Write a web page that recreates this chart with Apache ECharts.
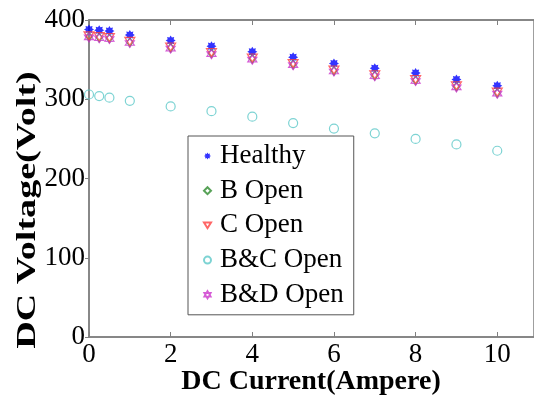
<!DOCTYPE html>
<html>
<head>
<meta charset="utf-8">
<script src="https://cdn.jsdelivr.net/npm/echarts@6/dist/echarts.min.js"></script>
<style>
  html, body { margin: 0; padding: 0; background: #fff; }
  #chart { width: 534px; height: 398px; }
</style>
</head>
<body>
<div id="chart"></div>
<script>
// DC current (A) at each measurement
const current = [0, 0.25, 0.5, 1, 2, 3, 4, 5, 6, 7, 8, 9, 10];
// DC bus voltage (V) for each operating condition
const healthy = [388, 387, 386, 381, 374, 367, 360, 353, 345, 339, 333, 325, 317];
const bOpen   = [379, 378, 377, 372, 365, 358, 351, 344, 336, 330, 324, 316, 308];
const cOpen   = [380, 379, 378, 373, 366, 359, 352, 345, 337, 331, 325, 317, 309];
const bcOpen  = [306, 304, 302, 298, 291, 285, 278, 270, 263, 257, 250, 243, 235];
const bdOpen  = [378, 377, 376, 371, 364, 357, 350, 343, 335, 329, 323, 315, 307];
const seriesNames = ['Healthy', 'B Open', 'C Open', 'B&C Open', 'B&D Open'];
const xTicks = [0, 2, 4, 6, 8, 10];
const yTicks = [0, 100, 200, 300, 400];

const FONT = '"Liberation Serif", "Times New Roman", serif';

// star polygon used for the asterisk and hexagram markers
function starPath(n, rOut, rIn) {
  let d = '';
  for (let i = 0; i < 2 * n; i++) {
    const r = i % 2 === 0 ? rOut : rIn;
    const a = Math.PI * i / n - Math.PI / 2;
    d += (i === 0 ? 'M' : 'L') + (r * Math.cos(a)).toFixed(3) + ',' + (r * Math.sin(a)).toFixed(3) + ' ';
  }
  return 'path://' + d + 'Z';
}
const asterisk = starPath(8, 10, 6.5);
const hexagram = starPath(6, 10, 5.8);
const downTriangle = 'path://M0,0 L10,0 L5,8 Z';

const pairs = v => current.map((x, i) => [x, v[i]]);
const hollow = c => ({ color: 'rgba(255,255,255,0)', borderColor: c, borderWidth: 1.2 });

const X_MAX = 10.9;
const axisGray = '#808080';

const chart = echarts.init(document.getElementById('chart'), null, { renderer: 'canvas' });
chart.setOption({
  animation: false,
  backgroundColor: '#fff',
  grid: {
    left: 89, top: 20, right: -2, bottom: 61, containLabel: false,
    show: true, backgroundColor: 'transparent', borderColor: axisGray, borderWidth: 1.5
  },
  xAxis: [{
    type: 'value', position: 'bottom', min: 0, max: X_MAX, interval: 2,
    axisLine: { show: true, onZero: false, lineStyle: { color: axisGray, width: 1.5 } },
    axisTick: { show: true, inside: true, length: 5, lineStyle: { color: axisGray } },
    axisLabel: {
      color: '#000', fontFamily: FONT, fontSize: 27, margin: 4, showMaxLabel: false,
      formatter: v => xTicks.indexOf(v) >= 0 ? String(v) : ''
    },
    splitLine: { show: false }
  }, {
    // top frame edge with inward ticks, same scale as the bottom axis
    type: 'value', position: 'top', min: 0, max: X_MAX, interval: 2,
    axisLine: { show: true, onZero: false, lineStyle: { color: axisGray, width: 1.5 } },
    axisTick: { show: true, inside: true, length: 5, lineStyle: { color: axisGray } },
    axisLabel: { show: false },
    splitLine: { show: false }
  }],
  yAxis: {
    type: 'value', min: 0, max: 400, interval: 100,
    axisLine: { show: true, onZero: false, lineStyle: { color: axisGray, width: 1.5 } },
    axisTick: { show: true, inside: false, length: 4, lineStyle: { color: axisGray } },
    axisLabel: {
      color: '#000', fontFamily: FONT, fontSize: 27, margin: 4,
      formatter: v => yTicks.indexOf(v) >= 0 ? String(v) : ''
    },
    splitLine: { show: false }
  },
  legend: {
    orient: 'vertical', left: 188, top: 136,
    data: seriesNames,
    backgroundColor: '#fff',
    borderColor: '#555', borderWidth: 1,
    padding: [6, 10, 6, 15],
    itemWidth: 7, itemHeight: 7, itemGap: 6.7,
    textStyle: { fontFamily: FONT, fontSize: 27, color: '#000', lineHeight: 28, padding: [0, 0, 0, 4] }
  },
  graphic: [
    {
      type: 'text', x: 28, y: 210, rotation: Math.PI / 2, scaleX: 1.36,
      style: {
        text: 'DC Voltage(Volt)', fontFamily: FONT, fontWeight: 'bold', fontSize: 28,
        fill: '#000', align: 'center', verticalAlign: 'middle'
      }
    },
    {
      type: 'text', x: 311, y: 382,
      style: {
        text: 'DC Current(Ampere)', fontFamily: FONT, fontWeight: 'bold', fontSize: 28,
        fill: '#000', align: 'center', verticalAlign: 'middle'
      }
    }
  ],
  series: [
    { name: 'Healthy', type: 'scatter', data: pairs(healthy), symbol: asterisk, symbolSize: 10,
      itemStyle: { color: '#0000ff' }, z: 2 },
    { name: 'B Open', type: 'scatter', data: pairs(bOpen), symbol: 'diamond', symbolSize: [6, 9],
      itemStyle: hollow('#2e8b2e'), z: 3 },
    { name: 'C Open', type: 'scatter', data: pairs(cOpen), symbol: downTriangle, symbolSize: [10, 8],
      itemStyle: hollow('#ff4040'), z: 4 },
    { name: 'B&C Open', type: 'scatter', xAxisIndex: 1, data: pairs(bcOpen), symbol: 'circle', symbolSize: 9,
      itemStyle: hollow('#5cc8c8'), z: 5 },
    { name: 'B&D Open', type: 'scatter', data: pairs(bdOpen), symbol: hexagram, symbolSize: 9,
      itemStyle: hollow('#cc33cc'), z: 6 }
  ]
});
</script>
</body>
</html>
